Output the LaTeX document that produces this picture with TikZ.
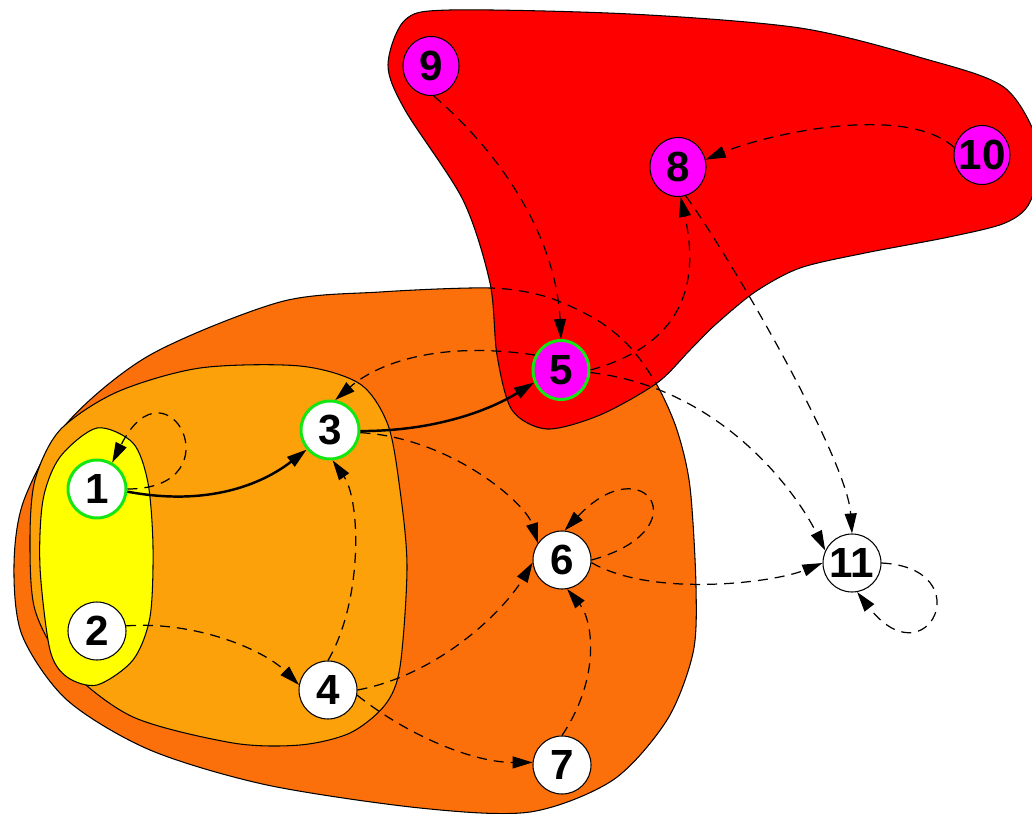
\documentclass[tikz,border=0pt]{standalone}
\usepackage{fontspec}
\setmainfont{Liberation Sans}
\definecolor{sccorange}{RGB}{252,112,12}
\definecolor{sccamber}{RGB}{252,161,10}
\definecolor{sccyellow}{RGB}{255,255,0}
\definecolor{sccred}{RGB}{255,0,0}
\definecolor{sccmagenta}{RGB}{255,0,255}
\definecolor{sccgreen}{RGB}{20,230,20}
\usetikzlibrary{arrows.meta,shapes.geometric}
\newcommand{\sccouter}{plot[smooth cycle] coordinates {(490,-288) (380,-292) (280,-302)
  (150,-355) (67,-423) (24,-500) (14,-565) (22,-635) (67,-700) (150,-750) (267,-785)
  (420,-808) (530,-812) (613,-780) (667,-720) (693,-653) (696,-587) (690,-487)
  (677,-430) (657,-385) (630,-347) (597,-320) (547,-297)}}
\newcommand{\sccredblob}{plot[smooth cycle] coordinates {(405,-20) (450,-10) (630,-14)
  (800,-28) (922,-58) (1005,-88) (1040,-150) (1030,-202) (1005,-223) (949,-237)
  (865,-253) (800,-268) (755,-292) (715,-325) (690,-350) (657,-383) (600,-415)
  (547,-429) (512,-410) (497,-355) (490,-283) (463,-200) (405,-110) (388,-65)}}

\begin{document}
\begin{tikzpicture}[x=0.2mm,y=0.2mm,
  sccregion/.style={draw=black,line width=0.6pt},
  sccvert/.style={circle,draw=black,line width=0.6pt,fill=white,minimum size=11.6mm,
    inner sep=0pt,font=\fontsize{24}{24}\selectfont\bfseries},
  sccseed/.style={sccvert,draw=sccgreen,line width=1.7pt},
  sccsink/.style={ellipse,draw=black,line width=0.6pt,fill=sccmagenta,minimum width=11.2mm,
    minimum height=11.8mm,inner xsep=-4pt,inner ysep=0pt,font=\fontsize{24}{24}\selectfont\bfseries},
  sccdashline/.style={line width=0.7pt,dash pattern=on 2mm off 1.4mm},
  sccedge/.style={sccdashline,-{Triangle[length=4mm,width=2.4mm]}},
  sccpath/.style={line width=1.4pt,-{Triangle[length=4mm,width=2.4mm]}}
]
  \clip (0,0) rectangle (1032,-814);

  % Nested regions
  \filldraw[sccregion,fill=sccorange] \sccouter;
  \filldraw[sccregion,fill=sccamber] plot[smooth cycle] coordinates {(300,-366) (200,-368)
    (117,-392) (60,-430) (35,-480) (30,-540) (35,-610) (67,-667) (133,-717) (233,-743)
    (300,-745) (350,-733) (385,-705) (400,-667) (407,-567) (400,-490) (388,-425) (360,-384)};
  \filldraw[sccregion,fill=sccyellow] plot[smooth cycle] coordinates {(97,-428) (133,-443)
    (148,-483) (153,-547) (150,-617) (133,-660) (97,-685) (67,-677) (50,-650) (40,-567)
    (43,-500) (60,-457)};
  \filldraw[sccregion,fill=sccred] \sccredblob;
  % Outer region seen through the red one
  \begin{scope}
    \clip \sccredblob;
    \draw[sccdashline] \sccouter;
  \end{scope}

  % Vertices
  \node[sccseed] (v1) at (97,-489) {1};
  \node[sccvert] (v2) at (97,-631) {2};
  \node[sccseed] (v3) at (330,-430) {3};
  \node[sccvert] (v4) at (328,-690) {4};
  \node[sccsink,draw=sccgreen,line width=1.7pt] (v5) at (561,-370) {5};
  \node[sccvert] (v6) at (562,-560) {6};
  \node[sccvert] (v7) at (562,-765) {7};
  \node[sccsink] (v8) at (678,-167) {8};
  \node[sccsink] (v9) at (431,-66) {9};
  \node[sccsink] (v10) at (982,-155) {10};
  \node[sccvert] (v11) at (852,-563) {11};

  % Solid path
  \draw[sccpath] (v1.-5) .. controls +(80,-15) and +(-45,-35) .. (v3.220);
  \draw[sccpath] (v3.-2) .. controls +(80,0) and +(-40,-25) .. (v5.205);

  % Dashed edges
  \draw[sccedge] (v1.0) .. controls +(110,0) and +(55,110) .. (v1.60);
  \draw[sccedge] (v2.10) .. controls +(70,5) and +(-35,35) .. (v4.170);
  \draw[sccedge] (v4.90) .. controls +(35,60) and +(28,-40) .. (v3.-85);
  \draw[sccedge] (v3.-5) .. controls +(90,-5) and +(-12,40) .. (v6.145);
  \draw[sccedge] (v4.0) .. controls +(80,15) and +(-30,-50) .. (v6.185);
  \draw[sccedge] (v4.-10) .. controls +(50,-40) and +(-60,0) .. (v7.175);
  \draw[sccedge] (v7.90) .. controls +(40,60) and +(25,-30) .. (v6.-80);
  \draw[sccedge] (v6.0) .. controls +(110,30) and +(80,85) .. (v6.85);
  \draw[sccedge] (v6.-5) .. controls +(60,-35) and +(-50,-20) .. (v11.180);
  \draw[sccedge] (v5.150) .. controls +(-100,15) and +(40,35) .. (v3.80);
  \draw[sccedge] (v9.-85) .. controls +(70,-60) and +(-5,100) .. (v5.north);
  \draw[sccedge] (v10.165) .. controls +(-50,45) and +(60,25) .. (v8.15);
  \draw[sccedge] (v5.0) .. controls +(90,25) and +(20,-90) .. (v8.-85);
  \draw[sccedge] (v5.-5) .. controls +(130,-15) and +(-30,60) .. (v11.155);
  \draw[sccedge] (v8.-75) .. controls +(45,-62) and +(-5,75) .. (v11.north);
  \draw[sccedge] (v11.0) .. controls +(100,-5) and +(70,-90) .. (v11.-80);
\end{tikzpicture}
\end{document}
